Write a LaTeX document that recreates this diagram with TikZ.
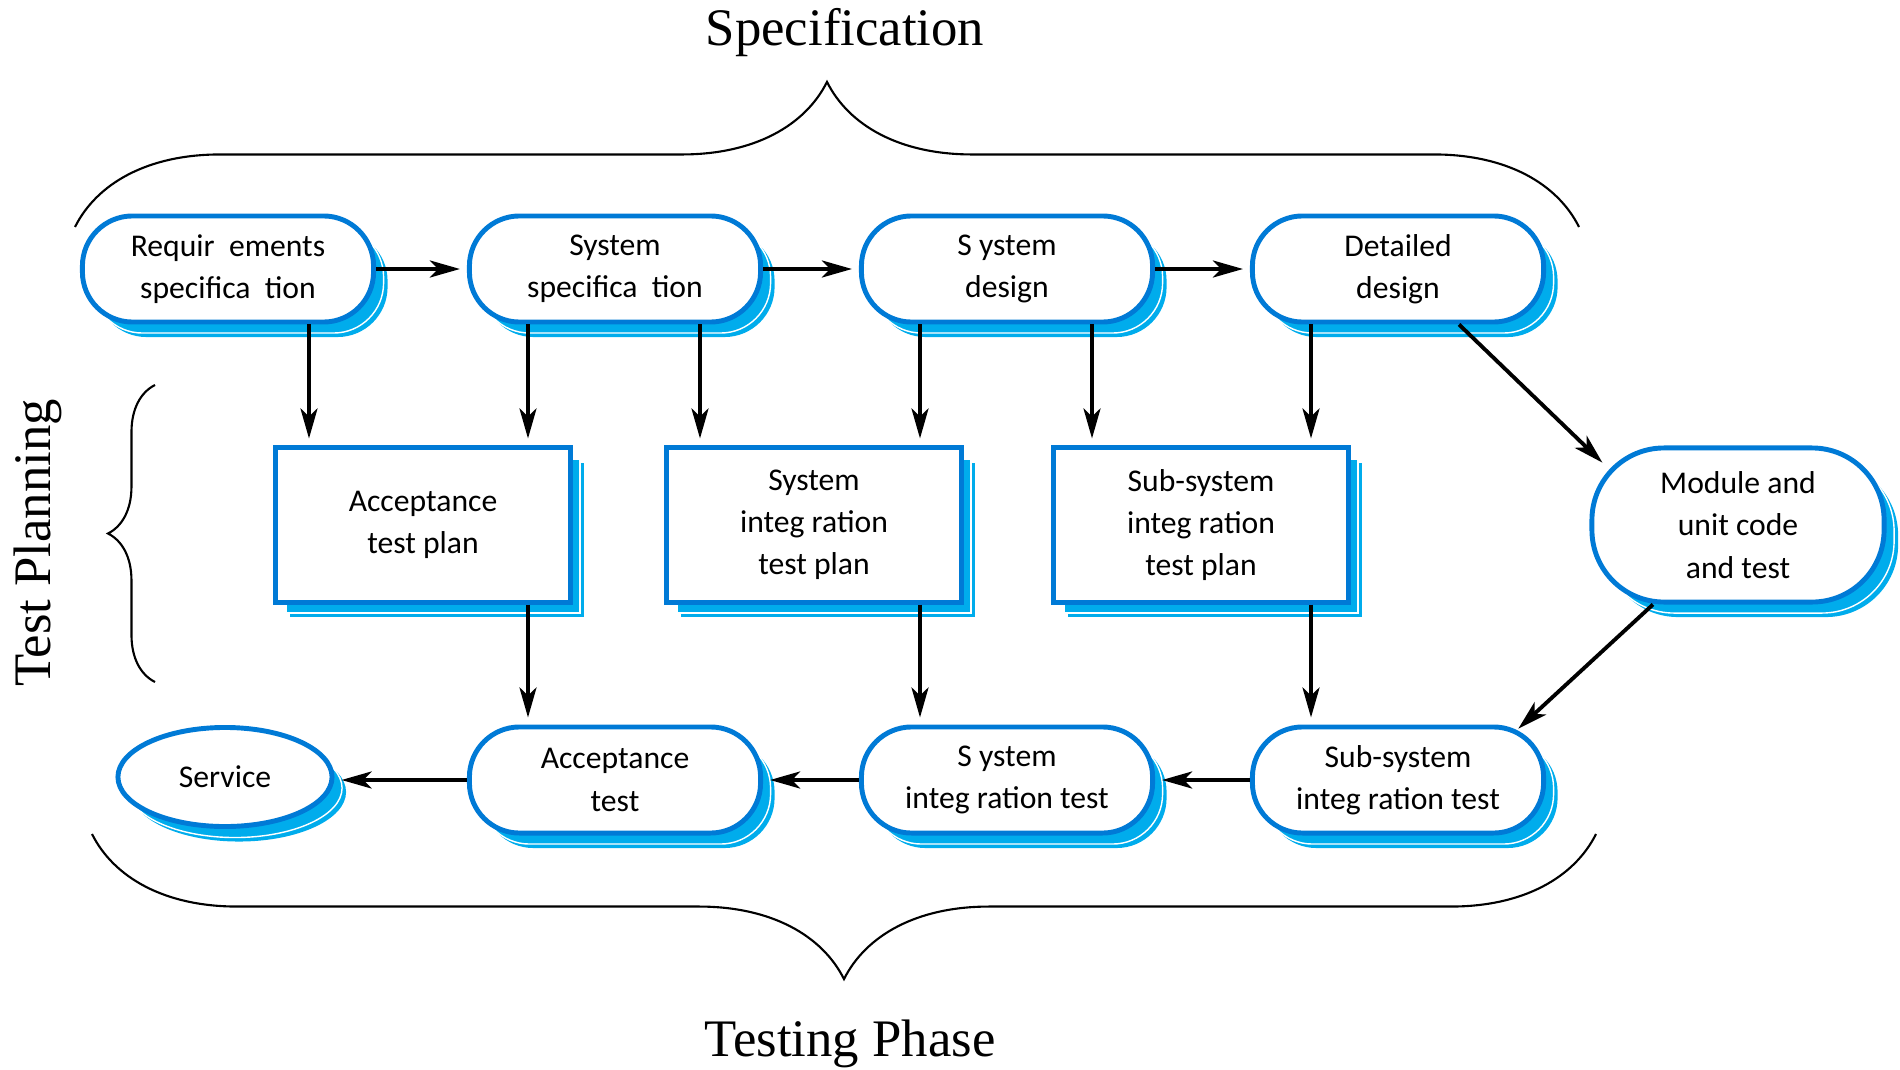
\documentclass[tikz,border=0pt]{standalone}
\usepackage{fontspec}
\setmainfont{Liberation Serif}
\newfontfamily\boxfont{Carlito}
\usetikzlibrary{arrows.meta, shadows, shapes.geometric, decorations.pathreplacing}

\definecolor{bordoblu}{RGB}{0,122,214}
\definecolor{ombra}{RGB}{0,172,236}

\tikzset{
	ombre/.style={copy shadow={shadow xshift=0.14cm, shadow yshift=-0.15cm, fill=ombra, draw=none},
		copy shadow={shadow xshift=0.10cm, shadow yshift=-0.11cm, fill=ombra, draw=white, line width=0.4pt}},
	blocco/.style={ombre, draw=bordoblu, line width=1.4pt, fill=white, align=center,
		font=\boxfont\fontsize{9}{12}\selectfont},
	fase/.style={blocco, rounded corners=0.5cm, minimum width=2.91cm, minimum height=1.06cm},
	piano/.style={blocco, rectangle, minimum width=2.94cm, minimum height=1.54cm},
	modulo/.style={blocco, rounded corners=0.72cm, minimum width=2.92cm, minimum height=1.54cm},
	servizio/.style={blocco, ellipse, minimum width=2.14cm, minimum height=0.99cm},
	freccia/.style={line width=1.1pt, -{Stealth[length=0.3cm, width=0.17cm, inset=0.08cm]}, shorten >=0.07cm},
	graffa/.style={decorate, decoration={brace, amplitude=#1}, line width=0.6pt},
	titolo/.style={font=\fontsize{15}{18}\selectfont, inner sep=0pt, anchor=base}
}

\begin{document}
\begin{tikzpicture}[x=0.01cm, y=-0.01cm]
	\useasboundingbox (0,0) rectangle (1900,1070);
	
	%%% Fasi di specifica
	\node[fase] (req) at (228,269) {Requir\ \ ements\\specifica\ \ tion};
	\node[fase] (sysspec) at (615,269) {System\\specifica\ \ tion};
	\node[fase] (sysdes) at (1007,269) {S ystem\\design};
	\node[fase] (detdes) at (1398,269) {Detailed\\design};
	
	%%% Piani di test
	\node[piano] (accplan) at (423,525) {Acceptance\\test plan};
	\node[piano] (sysplan) at (814,525) {System\\integ ration\\test plan};
	\node[piano] (subplan) at (1201,525) {Sub-system\\integ ration\\test plan};
	\node[modulo] (module) at (1738,525) {Module and\\unit code\\and test};
	
	%%% Fasi di test
	\node[servizio] (service) at (225,777) {Service};
	\node[fase] (acctest) at (615,780) {Acceptance\\test};
	\node[fase] (systest) at (1007,780) {S ystem\\integ ration test};
	\node[fase] (subtest) at (1398,780) {Sub-system\\integ ration test};
	
	%%% Frecce
	\draw[freccia] (req.east) -- (sysspec.west);
	\draw[freccia] (sysspec.east) -- (sysdes.west);
	\draw[freccia] (sysdes.east) -- (detdes.west);
	
	\draw[freccia] (req.south -| 309,0) -- (accplan.north -| 309,0);
	\draw[freccia] (sysspec.south -| 528,0) -- (accplan.north -| 528,0);
	\draw[freccia] (sysspec.south -| 700,0) -- (sysplan.north -| 700,0);
	\draw[freccia] (sysdes.south -| 920,0) -- (sysplan.north -| 920,0);
	\draw[freccia] (sysdes.south -| 1092,0) -- (subplan.north -| 1092,0);
	\draw[freccia] (detdes.south -| 1311,0) -- (subplan.north -| 1311,0);
	\draw[freccia] (detdes.south -| 1459,0) -- ([xshift=0.18cm, yshift=-0.22cm]module.north west);
	
	\draw[freccia] (accplan.south -| 528,0) -- (acctest.north -| 528,0);
	\draw[freccia] (sysplan.south -| 920,0) -- (systest.north -| 920,0);
	\draw[freccia] (subplan.south -| 1311,0) -- (subtest.north -| 1311,0);
	\draw[freccia] ([xshift=-0.85cm]module.south) -- ([xshift=1.15cm, yshift=-0.09cm]subtest.north);
	
	\draw[freccia] (subtest.west) -- (systest.east);
	\draw[freccia] (systest.west) -- (acctest.east);
	\draw[freccia] (acctest.west) -- (acctest.west -| service.east);
	
	%%% Graffe
	\draw[graffa=1.45cm] (75,227) -- (1579,227);
	\draw[graffa=1.45cm] (1596,834) -- (92,834);
	\draw[graffa=0.47cm] (155,682) -- (155,385);
	
	\node[titolo] (spec) at (845,46) {Specification};
	\node[titolo] (testing) at (850,1056) {Testing Phase};
	\node[titolo, rotate=90] (planning) at (50,543) {Test Planning};
\end{tikzpicture}
\end{document}
